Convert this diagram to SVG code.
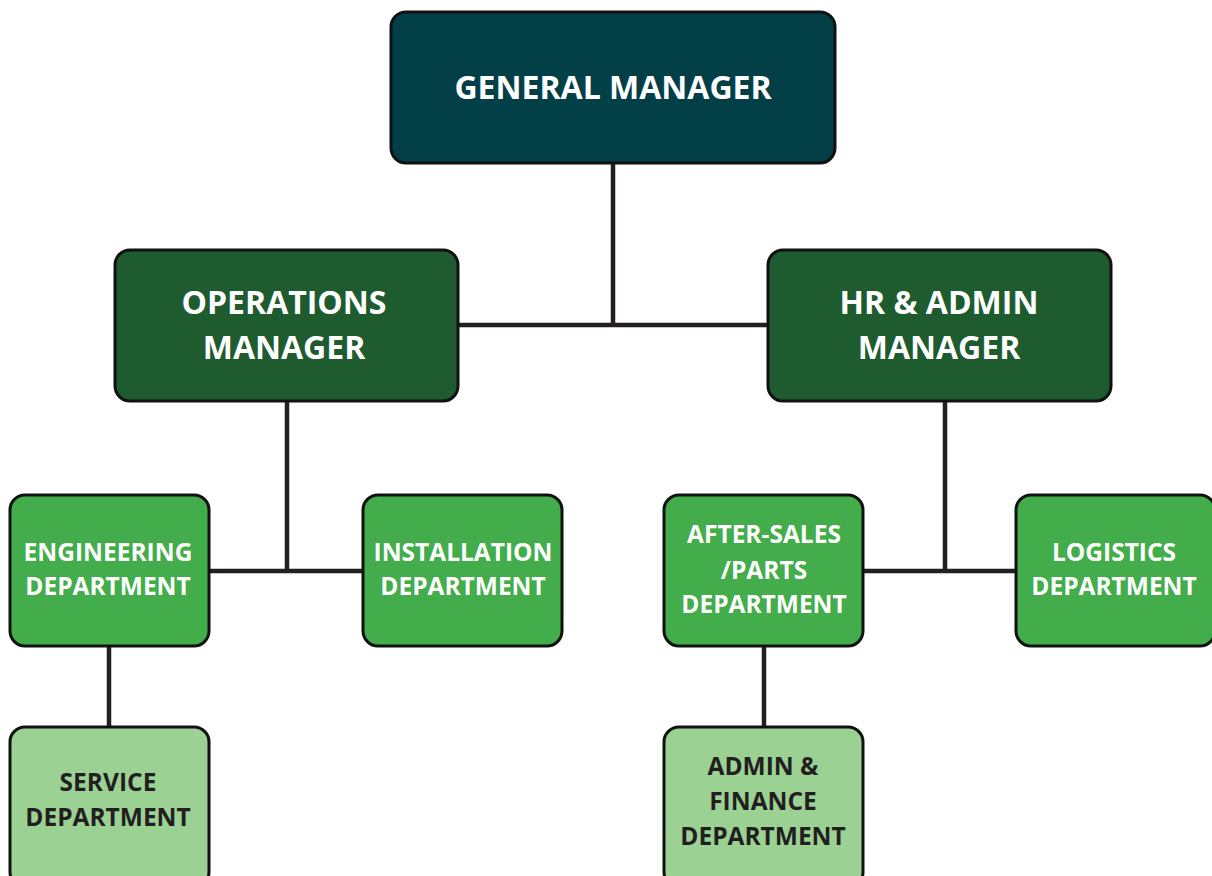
<svg xmlns="http://www.w3.org/2000/svg" width="1212" height="876" viewBox="0 0 1212 876">
<style>
.box{stroke:#111;stroke-width:3}
.l1{fill:#033F47}
.l2{fill:#1E5B2F}
.l3{fill:#42AD4A}
.l4{fill:#9CD194}
.t{font-family:"Open Sans","Liberation Sans",sans-serif;font-weight:bold;text-anchor:middle;fill:#fff}
.big{font-size:32px}
.sm{font-size:24.5px}
.dark{fill:#231F20}
.conn{fill:none;stroke:#231F20;stroke-width:4.5}
</style>
<rect width="1212" height="876" fill="#fff"/>
<g id="connectors" class="conn">
<path d="M613 163V325M458 325H768"/>
<path d="M287 401V571M209 571H363"/>
<path d="M945 401V571M863 571H1016"/>
<path d="M109 646V727"/>
<path d="M764 646V727"/>
</g>
<g id="general-manager">
<rect class="box l1" x="391" y="12" width="444" height="151" rx="15"/>
<text class="t big" x="613" y="99">GENERAL MANAGER</text>
</g>
<g id="operations-manager">
<rect class="box l2" x="115" y="250" width="343" height="151" rx="15"/>
<text class="t big" x="284" y="314">OPERATIONS</text>
<text class="t big" x="284" y="359">MANAGER</text>
</g>
<g id="hr-admin-manager">
<rect class="box l2" x="768" y="250" width="343" height="151" rx="15"/>
<text class="t big" x="939" y="314">HR &amp; ADMIN</text>
<text class="t big" x="939" y="359">MANAGER</text>
</g>
<g id="engineering">
<rect class="box l3" x="10" y="495" width="199" height="151" rx="15"/>
<text class="t sm" x="108" y="561">ENGINEERING</text>
<text class="t sm" x="108" y="595">DEPARTMENT</text>
</g>
<g id="installation">
<rect class="box l3" x="363" y="495" width="199" height="151" rx="15"/>
<text class="t sm" x="463" y="561">INSTALLATION</text>
<text class="t sm" x="463" y="595">DEPARTMENT</text>
</g>
<g id="after-sales">
<rect class="box l3" x="664" y="495" width="199" height="151" rx="15"/>
<text class="t sm" x="764" y="543">AFTER-SALES</text>
<text class="t sm" x="764" y="579">/PARTS</text>
<text class="t sm" x="764" y="613">DEPARTMENT</text>
</g>
<g id="logistics">
<rect class="box l3" x="1016" y="495" width="199" height="151" rx="15"/>
<text class="t sm" x="1114" y="561">LOGISTICS</text>
<text class="t sm" x="1114" y="595">DEPARTMENT</text>
</g>
<g id="service">
<rect class="box l4" x="10" y="727" width="199" height="160" rx="15"/>
<text class="t sm dark" x="108" y="791">SERVICE</text>
<text class="t sm dark" x="108" y="826">DEPARTMENT</text>
</g>
<g id="admin-finance">
<rect class="box l4" x="664" y="727" width="199" height="160" rx="15"/>
<text class="t sm dark" x="763" y="775">ADMIN &amp;</text>
<text class="t sm dark" x="763" y="810">FINANCE</text>
<text class="t sm dark" x="763" y="845">DEPARTMENT</text>
</g>
</svg>
